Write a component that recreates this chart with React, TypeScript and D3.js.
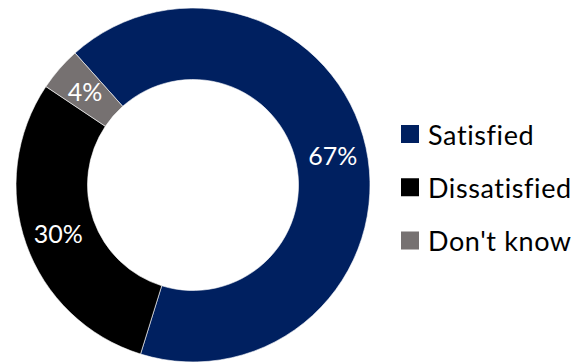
import React from "react";
import * as d3 from "d3";

const categories = ["Satisfied", "Dissatisfied", "Don't know"];
const values = [66.4, 29.6, 4.0];
const valueLabels = ["67%", "30%", "4%"];
const colors = ["#002060", "#000000", "#767171"];

const W = 584;
const H = 363;
const cx = 193;
const cy = 185;
const outerR = 177;
const innerR = 105.5;
const startDeg = -41.8;

export default function App() {
  const pie = d3
    .pie<number>()
    .sort(null)
    .value((d) => d)
    .startAngle((startDeg * Math.PI) / 180)
    .endAngle(((startDeg + 360) * Math.PI) / 180);
  const arcs = pie(values);
  const arc = d3.arc<d3.PieArcDatum<number>>().innerRadius(innerR).outerRadius(outerR);
  const labelArc = d3.arc<d3.PieArcDatum<number>>().innerRadius(110).outerRadius(176);

  const legendY = d3.scalePoint<string>().domain(categories).range([134, 240.5]);

  const font = "Lato, 'Open Sans', sans-serif";

  return (
    <svg
      width={W}
      height={H}
      style={{ position: "absolute", left: 0, top: 0, background: "#fff" }}
    >
      <g transform={`translate(${cx},${cy})`}>
        {arcs.map((a, i) => (
          <path key={i} d={arc(a) || ""} fill={colors[i]} stroke="#fff" strokeWidth={0.6} />
        ))}
        {arcs.map((a, i) => {
          const [x, y] = labelArc.centroid(a);
          return (
            <text
              key={"l" + i}
              x={x}
              y={y}
              textAnchor="middle"
              dominantBaseline="central"
              fill="#fff"
              fontFamily={font}
              fontSize={25}
            >
              {valueLabels[i]}
            </text>
          );
        })}
      </g>
      {categories.map((c, i) => {
        const y = legendY(c) as number;
        return (
          <g key={"lg" + i}>
            <rect x={401} y={y - 9} width={18} height={18} fill={colors[i]} />
            <text
              x={428}
              y={y}
              dominantBaseline="central"
              fill="#000"
              fontFamily={font}
              fontSize={27}
              letterSpacing={0.6}
            >
              {c}
            </text>
          </g>
        );
      })}
    </svg>
  );
}
